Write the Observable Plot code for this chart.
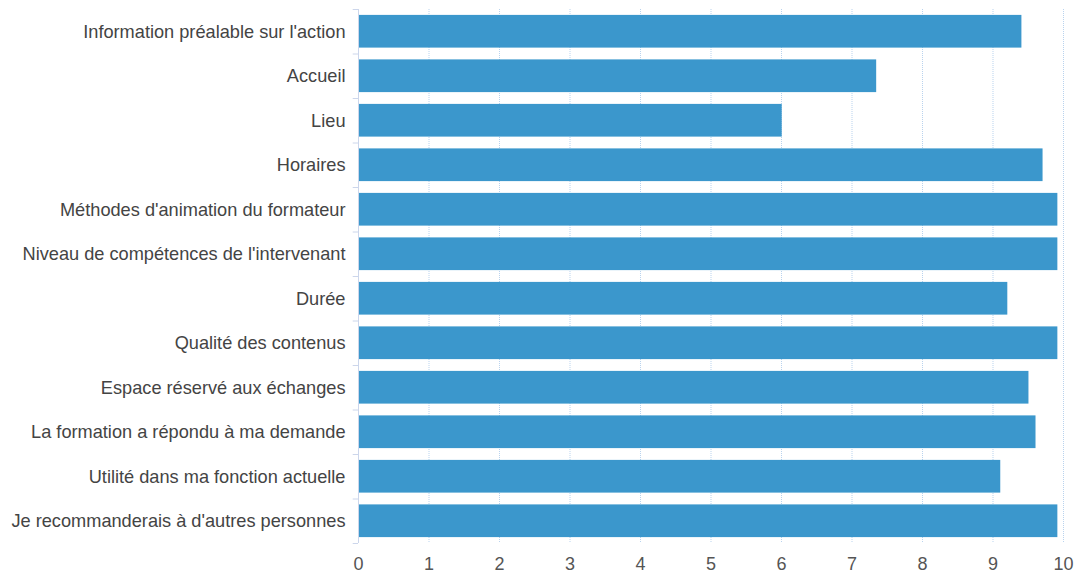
<!DOCTYPE html>
<html><head><meta charset="utf-8">
<script src="https://cdn.jsdelivr.net/npm/d3@7"></script>
<script src="https://cdn.jsdelivr.net/npm/@observablehq/plot@0.6"></script>
<style>body{margin:0;background:#fff;font-family:"Liberation Sans",Arial,sans-serif;}</style>
</head><body><div id="chart"></div>
<script>
const categories = [
  "Information préalable sur l'action",
  "Accueil",
  "Lieu",
  "Horaires",
  "Méthodes d'animation du formateur",
  "Niveau de compétences de l'intervenant",
  "Durée",
  "Qualité des contenus",
  "Espace réservé aux échanges",
  "La formation a répondu à ma demande",
  "Utilité dans ma fonction actuelle",
  "Je recommanderais à d'autres personnes"
];
const values = [9.41, 7.35, 6.01, 9.71, 9.92, 9.92, 9.21, 9.92, 9.51, 9.61, 9.11, 9.92];
const xTicks = [0,1,2,3,4,5,6,7,8,9,10];

const data = categories.map((c, i) => ({cat: c, v: values[i]}));
const H = 576, mt = 9, mb = 33;
const step = (H - mt - mb) / categories.length;

const chart = Plot.plot({
  width: 1076, height: H,
  marginLeft: 358, marginRight: 13, marginTop: mt, marginBottom: mb,
  style: {fontFamily: '"Liberation Sans", Arial, sans-serif', fontSize: "18px", background: "#fff"},
  x: {domain: [0, 10], ticks: xTicks},
  y: {domain: categories, paddingInner: 0.265, paddingOuter: 0.1325, round: false},
  marks: [
    Plot.gridX(xTicks, {stroke: "#b9d3ee", strokeOpacity: 1, strokeWidth: 1, strokeDasharray: "1,1"}),
    Plot.barX(data, {x: "v", y: "cat", fill: "#3b97cc"}),
    Plot.ruleX([0], {stroke: "#ccd6eb"}),
    Plot.ruleY(categories, {y: d => d, x1: -0.075, x2: 0, dy: -step/2, stroke: "#ccd6eb"}),
    Plot.ruleY([categories[categories.length-1]], {y: d => d, x1: -0.075, x2: 0, dy: step/2, stroke: "#ccd6eb"}),
    Plot.axisY({tickSize: 0, tickPadding: 13, fill: "#444", fontSize: 18.2, label: null}),
    Plot.axisX(xTicks, {tickSize: 0, tickPadding: 14, fill: "#555", fontSize: 18, label: null})
  ]
});
document.getElementById("chart").appendChild(chart);
</script></body></html>
